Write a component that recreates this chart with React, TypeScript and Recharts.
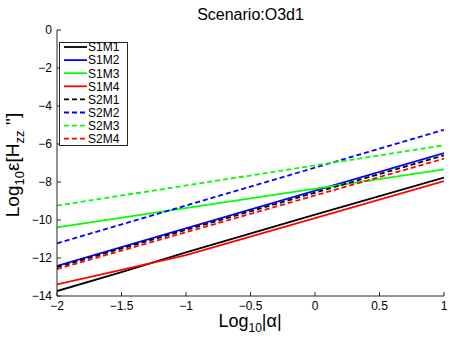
import React from "react";
import { LineChart, Line, XAxis, YAxis, Legend, Label } from "recharts";

// log10|alpha| sample positions per curve and log10 error values
const xEnds = [-2, 1];
const xFine = [-2, -1.5, -1, 0, 1];

const s1m1 = [-13.74, -12.74, -11.7, -9.72, -7.77];
const s1m2 = [-12.42, -6.48];
const s1m3 = [-10.39, -7.33];
const s1m4 = [-13.39, -12.62, -11.85, -9.9, -7.95];
const s2m1 = [-12.48, -6.6];
const s2m2 = [-11.23, -5.25];
const s2m3 = [-9.24, -6.07];
const s2m4 = [-12.58, -6.77];

const xTicks = [-2, -1.5, -1, -0.5, 0, 0.5, 1];
const yTicks = [-14, -12, -10, -8, -6, -4, -2, 0];

const FONT = '"Liberation Sans", Arial, Helvetica, sans-serif';
const DASH = "5 3";

const series = [
  { name: "S1M1", xs: xFine, ys: s1m1, color: "#000000", dashed: false },
  { name: "S1M2", xs: xEnds, ys: s1m2, color: "#0000ff", dashed: false },
  { name: "S1M3", xs: xEnds, ys: s1m3, color: "#00ff00", dashed: false },
  { name: "S1M4", xs: xFine, ys: s1m4, color: "#ff0000", dashed: false },
  { name: "S2M1", xs: xEnds, ys: s2m1, color: "#000000", dashed: true },
  { name: "S2M2", xs: xEnds, ys: s2m2, color: "#0000ff", dashed: true },
  { name: "S2M3", xs: xEnds, ys: s2m3, color: "#00ff00", dashed: true },
  { name: "S2M4", xs: xEnds, ys: s2m4, color: "#ff0000", dashed: true },
];

const fmt = (v: number) => (v < 0 ? "\u2212" + Math.abs(v) : String(v));

const XTick = (props: any) => {
  const { x, y, payload } = props;
  return (
    <g>
      <line x1={x} y1={y} x2={x} y2={y - 4} stroke="#262626" />
      <text x={x} y={y + 13.5} textAnchor="middle" fontSize={12} fill="#000" fontFamily={FONT}>
        {fmt(payload.value)}
      </text>
    </g>
  );
};

const YTick = (props: any) => {
  const { x, y, payload } = props;
  return (
    <g>
      <line x1={x} y1={y} x2={x + 4} y2={y} stroke="#262626" />
      <text x={x - 5} y={y + 4.3} textAnchor="end" fontSize={12} fill="#000" fontFamily={FONT}>
        {fmt(payload.value)}
      </text>
    </g>
  );
};

const LegendBox = () => {
  const pitch = 13.1;
  return (
    <svg width={76} height={104} style={{ display: "block", overflow: "visible" }}>
      <rect x={0.5} y={0.5} width={68} height={103} fill="#fff" stroke="#262626" />
      {series.map((s, i) => {
        const cy = 5 + pitch * i;
        return (
          <g key={s.name}>
            <line
              x1={5}
              y1={cy}
              x2={28}
              y2={cy}
              stroke={s.color}
              strokeWidth={1.8}
              strokeDasharray={s.dashed ? DASH : undefined}
            />
            <text x={29} y={cy + 4.3} fontSize={12} fontFamily={FONT} fill="#000">
              {s.name}
            </text>
          </g>
        );
      })}
    </svg>
  );
};

const YLabel = () => {
  const cy = 165;
  const cx = 19;
  return (
    <text
      x={cx}
      y={cy}
      transform={`rotate(-90 ${cx} ${cy})`}
      textAnchor="middle"
      fontFamily={FONT}
      fontSize={19}
      fill="#000"
    >
      Log
      <tspan fontSize={13} dy={5}>10</tspan>
      <tspan dy={-5}>ε[H</tspan>
      <tspan fontSize={13} dy={5}>zz</tspan>
      <tspan dy={-5}>{" ''"}</tspan>
      <tspan>]</tspan>
    </text>
  );
};

const XLabel = () => {
  const cx = 250;
  const cy = 327;
  return (
    <text x={cx} y={cy} textAnchor="middle" fontFamily={FONT} fontSize={18} fill="#000">
      Log
      <tspan fontSize={12} dy={5}>10</tspan>
      <tspan dy={-5}>|α|</tspan>
    </text>
  );
};

export default function App() {
  return (
    <div style={{ position: "absolute", left: 0, top: 0, width: 450, height: 338, background: "#fff" }}>
      <svg
        width={450}
        height={30}
        style={{ position: "absolute", left: 0, top: 0, zIndex: 2 }}
      >
        <text x={250.5} y={20} textAnchor="middle" fontFamily={FONT} fontSize={16} fill="#000">
          Scenario:O3d1
        </text>
      </svg>
      <LineChart width={450} height={338} margin={{ top: 30, right: 6, bottom: 0, left: 0 }}>
        <XAxis
          dataKey="x"
          type="number"
          domain={[-2, 1]}
          ticks={xTicks}
          tickSize={0}
          tickMargin={0}
          tickLine={false}
          tick={<XTick />}
          axisLine={{ stroke: "#262626" }}
          allowDataOverflow
          height={42}
        >
          <Label content={<XLabel />} />
        </XAxis>
        <YAxis
          dataKey="y"
          type="number"
          domain={[-14, 0]}
          ticks={yTicks}
          tickSize={0}
          tickMargin={0}
          tickLine={false}
          tick={<YTick />}
          axisLine={{ stroke: "#262626" }}
          allowDataOverflow
          width={57}
        >
          <Label content={<YLabel />} />
        </YAxis>
        <Legend
          layout="vertical"
          align="center"
          verticalAlign="middle"
          content={<LegendBox />}
          wrapperStyle={{ left: 59, top: 42, width: 76, height: 104 }}
        />
        {series.map((s) => (
          <Line
            key={s.name}
            name={s.name}
            data={s.xs.map((x, i) => ({ x, y: s.ys[i] }))}
            dataKey="y"
            stroke={s.color}
            strokeWidth={1.8}
            strokeDasharray={s.dashed ? DASH : undefined}
            dot={false}
            activeDot={false}
            isAnimationActive={false}
          />
        ))}
      </LineChart>
    </div>
  );
}
